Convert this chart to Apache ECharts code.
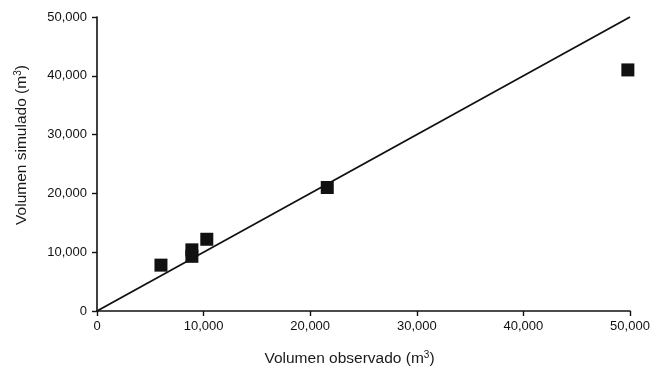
<!DOCTYPE html>
<html><head><meta charset="utf-8">
<script src="https://cdn.jsdelivr.net/npm/echarts@6/dist/echarts.min.js"></script>
<style>html,body{margin:0;padding:0;background:#fff}#c{width:656px;height:369px}</style>
</head><body><div id="c"></div>
<script>
var observed = [6000, 8900, 8900, 10300, 21600, 49800];
var simulated = [7800, 9300, 10400, 12200, 21000, 41000];
var lineX = [0, 50000];
var lineY = [0, 50000];
var xTicks = [0, 10000, 20000, 30000, 40000, 50000];
var yTicks = [0, 10000, 20000, 30000, 40000, 50000];

var pts = observed.map(function(v, i){ return [v, simulated[i]]; });
var linePts = lineX.map(function(v, i){ return [v, lineY[i]]; });
var fmt = function(v){ return v.toLocaleString('en-US'); };
var font = 'Liberation Sans, Arial, sans-serif';
function nameStyle(pad){
  return {fontFamily: font, fontSize: 15.5, color: '#1a1a1a', padding: pad,
    rich: {sup: {fontSize: 10, verticalAlign: 'top', padding: [0,0,8,0], fontFamily: font, color: '#1a1a1a'}}};
}
var chart = echarts.init(document.getElementById('c'));
chart.setOption({
  animation: false,
  grid: {left: 97, right: 26, top: 17, bottom: 58, containLabel: false, outerBoundsMode: 'none'},
  xAxis: {
    type: 'value', min: 0, max: 50000, interval: 10000,
    name: 'Volumen observado (m{sup|3})', nameLocation: 'middle', nameGap: 39,
    nameTextStyle: nameStyle([0, 28, 0, 0]),
    axisLine: {show: true, lineStyle: {color: '#111', width: 1.6}},
    axisTick: {show: true, length: 5, lineStyle: {color: '#111', width: 1.4}},
    axisLabel: {fontFamily: font, fontSize: 13, color: '#111', margin: 9, formatter: fmt},
    splitLine: {show: false}
  },
  yAxis: {
    type: 'value', min: 0, max: 50000, interval: 10000,
    name: 'Volumen simulado (m{sup|3})', nameLocation: 'middle', nameGap: 66, nameRotate: 90,
    nameTextStyle: nameStyle([0, 0, 0, 38]),
    axisLine: {show: true, lineStyle: {color: '#111', width: 1.6}},
    axisTick: {show: true, length: 5, lineStyle: {color: '#111', width: 1.4}},
    axisLabel: {fontFamily: font, fontSize: 13, color: '#111', margin: 10, formatter: fmt},
    splitLine: {show: false}
  },
  series: [
    {type: 'line', data: linePts, symbol: 'none', lineStyle: {color: '#111', width: 1.8}, z: 2},
    {type: 'scatter', data: pts, symbol: 'rect', symbolSize: 13,
     itemStyle: {color: '#111', opacity: 1}, z: 3}
  ]
});
</script></body></html>
